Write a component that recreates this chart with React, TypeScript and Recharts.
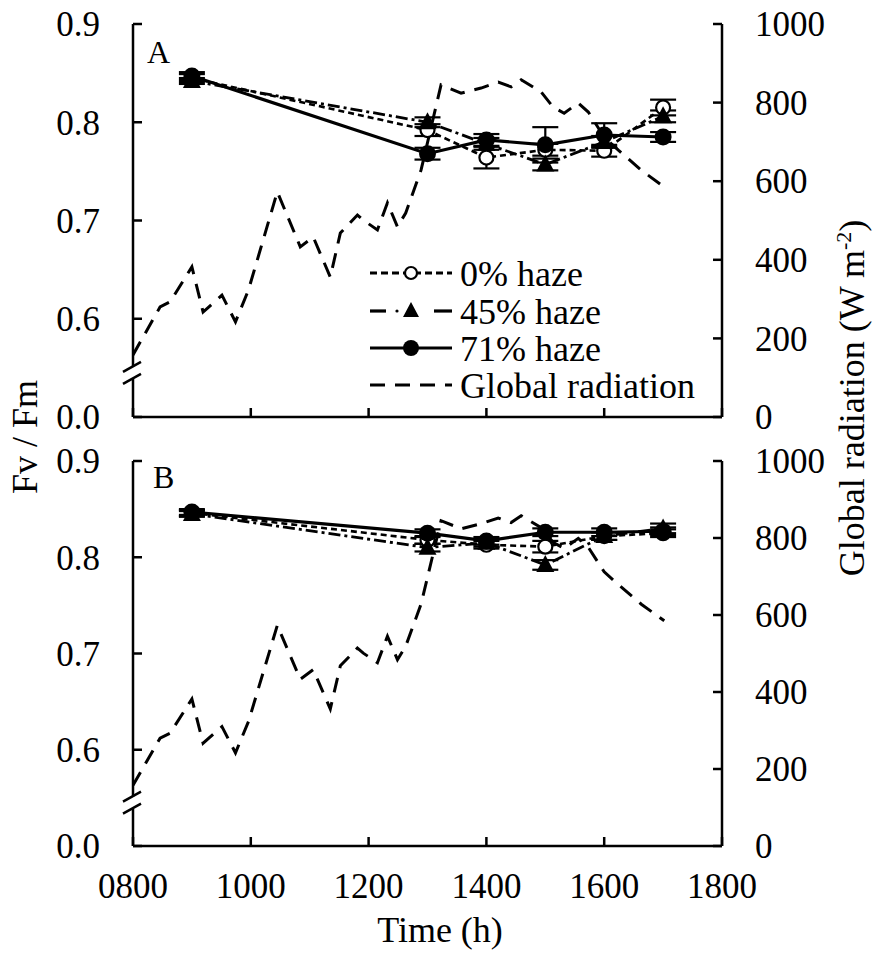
import React from 'react';
import { ComposedChart, Line, XAxis, YAxis, ErrorBar } from 'recharts';

const FONT = '"Times New Roman", Times, "Liberation Serif", Tinos, "Noto Serif", "DejaVu Serif", serif';

// ---- data ----
const sampleTimes = [900, 1300, 1400, 1500, 1600, 1700];
const xTicks = [800, 1000, 1200, 1400, 1600, 1800];
const fvTicks = [0.5, 0.545, 0.6, 0.7, 0.8, 0.9];
const radTicks = [0, 200, 400, 600, 800, 1000];

// Panel A
const aHaze0 = [0.845, 0.792, 0.764, 0.772, 0.771, 0.815];
const aHaze0Err = [0.004, 0.006, 0.011, 0.006, 0.006, 0.008];
const aHaze45 = [0.842, 0.8, 0.778, 0.757, 0.78, 0.806];
const aHaze45Err = [0.003, 0.005, 0.006, 0.006, 0.006, 0.006];
const aHaze71 = [0.847, 0.768, 0.782, 0.777, 0.787, 0.785];
const aHaze71Err = [0.004, 0.006, 0.006, 0.018, 0.012, 0.005];

// Panel B
const bHaze0 = [0.846, 0.818, 0.813, 0.811, 0.822, 0.825];
const bHaze0Err = [0.003, 0.004, 0.004, 0.006, 0.004, 0.004];
const bHaze45 = [0.845, 0.81, 0.815, 0.792, 0.822, 0.83];
const bHaze45Err = [0.003, 0.004, 0.004, 0.005, 0.004, 0.005];
const bHaze71 = [0.847, 0.825, 0.817, 0.826, 0.826, 0.827];
const bHaze71Err = [0.003, 0.004, 0.004, 0.004, 0.004, 0.004];

// Global radiation (W m-2)
const radTimes = [800, 846, 863, 900, 919, 951, 974, 996, 1045, 1084, 1106, 1135, 1152, 1181, 1191, 1215, 1232, 1249, 1263, 1289, 1323, 1357, 1391, 1420, 1442, 1459, 1493, 1513, 1532, 1556, 1573, 1600, 1624, 1663, 1702];
const radValues = [158, 280, 293, 382, 267, 310, 242, 323, 573, 433, 458, 356, 468, 514, 501, 476, 545, 484, 519, 628, 845, 824, 837, 852, 840, 858, 827, 789, 773, 799, 776, 712, 679, 628, 585];

const seriesNames = ['0% haze', '45% haze', '71% haze', 'Global radiation'];

const toSeries = (vals: number[], errs: number[]) =>
  sampleTimes.map((t, i) => ({ t, v: vals[i], e: errs[i] }));
const radData = radTimes.map((t, i) => ({ t, r: radValues[i] }));

// ---- styles ----
const DASH0 = '6 4';
const DASH45 = '12 4 3 4';
const DASHRAD = '15 10';
const TICK_FS = 35;
const txtStyle = { fontFamily: FONT };

const OpenCircle = (p: any) => {
  if (p.cx == null || p.cy == null) return <g key={p.index} />;
  return <circle key={p.index} cx={p.cx} cy={p.cy} r={7} fill="#fff" stroke="#000" strokeWidth={2.2} />;
};
const Triangle = (p: any) => {
  if (p.cx == null || p.cy == null) return <g key={p.index} />;
  const { cx, cy } = p;
  return <polygon key={p.index} points={`${cx},${cy - 10} ${cx - 9},${cy + 7} ${cx + 9},${cy + 7}`} fill="#000" />;
};
const FilledCircle = (p: any) => {
  if (p.cx == null || p.cy == null) return <g key={p.index} />;
  return <circle key={p.index} cx={p.cx} cy={p.cy} r={8.5} fill="#000" />;
};

const LeftTick = (p: any) => {
  const { x, y, payload } = p;
  const v = payload.value;
  if (Math.abs(v - 0.545) < 1e-6) {
    return (
      <g>
        <rect x={x - 3} y={y - 6} width={6} height={12} fill="#fff" />
        <line x1={x - 10} y1={y - 1} x2={x + 8} y2={y - 11} stroke="#000" strokeWidth={2.5} />
        <line x1={x - 10} y1={y + 11} x2={x + 8} y2={y + 1} stroke="#000" strokeWidth={2.5} />
      </g>
    );
  }
  const label = Math.abs(v - 0.5) < 1e-6 ? '0.0' : v.toFixed(1);
  return (
    <g>
      <line x1={x} x2={x + 9} y1={y} y2={y} stroke="#000" strokeWidth={2.5} />
      <text x={x - 33} y={y} dy="0.35em" textAnchor="end" fontSize={TICK_FS} style={txtStyle} fill="#000">{label}</text>
    </g>
  );
};

const RightTick = (p: any) => {
  const { x, y, payload } = p;
  return (
    <g>
      <line x1={x - 9} x2={x} y1={y} y2={y} stroke="#000" strokeWidth={2.5} />
      <text x={x + 33} y={y} dy="0.35em" textAnchor="start" fontSize={TICK_FS} style={txtStyle} fill="#000">{payload.value}</text>
    </g>
  );
};

const makeBottomTick = (showLabel: boolean) => (p: any) => {
  const { x, y, payload } = p;
  const lab = String(payload.value).padStart(4, '0');
  return (
    <g>
      <line x1={x} x2={x} y1={y} y2={y - 9} stroke="#000" strokeWidth={2.5} />
      {showLabel && (
        <text x={x} y={y + 52} textAnchor="middle" fontSize={TICK_FS} style={txtStyle} fill="#000">{lab}</text>
      )}
    </g>
  );
};

type Pt = { t: number; v: number; e: number };
type PanelProps = {
  top: number;
  height: number;
  xHeight: number;
  showXLabels: boolean;
  h0: Pt[];
  h45: Pt[];
  h71: Pt[];
};

const Panel = ({ top, height, xHeight, showXLabels, h0, h45, h71 }: PanelProps) => (
  <div style={{ position: 'absolute', left: 0, top }}>
    <ComposedChart width={874} height={height} margin={{ top: 24, right: 0, bottom: 0, left: 0 }} style={{ overflow: 'visible' }}>
      <XAxis
        dataKey="t"
        type="number"
        domain={[800, 1800]}
        ticks={xTicks}
        interval={0}
        allowDataOverflow
        height={xHeight}
        tickSize={0}
        tickMargin={0}
        tickLine={false}
        axisLine={{ stroke: '#000', strokeWidth: 2.5 }}
        tick={makeBottomTick(showXLabels)}
      />
      <YAxis
        yAxisId="fv"
        orientation="left"
        type="number"
        domain={[0.5, 0.9]}
        ticks={fvTicks}
        interval={0}
        allowDataOverflow
        width={133}
        tickSize={0}
        tickMargin={0}
        tickLine={false}
        axisLine={{ stroke: '#000', strokeWidth: 2.5 }}
        tick={LeftTick}
      />
      <YAxis
        yAxisId="rad"
        orientation="right"
        type="number"
        domain={[0, 1000]}
        ticks={radTicks}
        interval={0}
        allowDataOverflow
        width={152}
        tickSize={0}
        tickMargin={0}
        tickLine={false}
        axisLine={{ stroke: '#000', strokeWidth: 2.5 }}
        tick={RightTick}
      />
      <Line yAxisId="rad" data={radData} dataKey="r" name={seriesNames[3]} stroke="#000" strokeWidth={3}
        strokeDasharray={DASHRAD} dot={false} isAnimationActive={false} />
      <Line yAxisId="fv" data={h0} dataKey="v" name={seriesNames[0]} stroke="#000" strokeWidth={2.6}
        strokeDasharray={DASH0} dot={OpenCircle} isAnimationActive={false}>
        <ErrorBar dataKey="e" width={13} stroke="#000" strokeWidth={2.2} direction="y" />
      </Line>
      <Line yAxisId="fv" data={h45} dataKey="v" name={seriesNames[1]} stroke="#000" strokeWidth={2.8}
        strokeDasharray={DASH45} dot={Triangle} isAnimationActive={false}>
        <ErrorBar dataKey="e" width={13} stroke="#000" strokeWidth={2.2} direction="y" />
      </Line>
      <Line yAxisId="fv" data={h71} dataKey="v" name={seriesNames[2]} stroke="#000" strokeWidth={3.2}
        dot={FilledCircle} isAnimationActive={false}>
        <ErrorBar dataKey="e" width={13} stroke="#000" strokeWidth={2.2} direction="y" />
      </Line>
    </ComposedChart>
  </div>
);

const LegendOverlay = () => {
  const x0 = 370, x1 = 452, mx = 411, tx = 460;
  const rows = [273, 311, 348, 385];
  const fs = 36;
  return (
    <g fontSize={fs} fill="#000" style={txtStyle}>
      <line x1={x0} x2={x1} y1={rows[0]} y2={rows[0]} stroke="#000" strokeWidth={2.8} strokeDasharray="7 4" />
      <circle cx={mx} cy={rows[0]} r={6} fill="#fff" stroke="#000" strokeWidth={2.2} />
      <text x={tx} y={rows[0]} dy="0.35em">{seriesNames[0]}</text>

      <line x1={x0} x2={x0 + 16} y1={rows[1]} y2={rows[1]} stroke="#000" strokeWidth={3.2} />
      <circle cx={x0 + 27} cy={rows[1]} r={1.6} fill="#000" />
      <polygon points={`${mx},${rows[1] - 9} ${mx - 8},${rows[1] + 6} ${mx + 8},${rows[1] + 6}`} fill="#000" />
      <line x1={x1 - 18} x2={x1} y1={rows[1]} y2={rows[1]} stroke="#000" strokeWidth={3.2} />
      <text x={tx} y={rows[1]} dy="0.35em">{seriesNames[1]}</text>

      <line x1={x0} x2={x1} y1={rows[2]} y2={rows[2]} stroke="#000" strokeWidth={3} />
      <circle cx={mx} cy={rows[2]} r={8} fill="#000" />
      <text x={tx} y={rows[2]} dy="0.35em">{seriesNames[2]}</text>

      <line x1={x0} x2={x1} y1={rows[3]} y2={rows[3]} stroke="#000" strokeWidth={3.2} strokeDasharray="15 10" />
      <text x={tx} y={rows[3]} dy="0.35em">{seriesNames[3]}</text>
    </g>
  );
};

export default function App() {
  return (
    <div style={{ position: 'absolute', left: 0, top: 0, width: 874, height: 967, background: '#fff', fontFamily: FONT }}>
      <Panel top={0} height={447} xHeight={30} showXLabels={false}
        h0={toSeries(aHaze0, aHaze0Err)} h45={toSeries(aHaze45, aHaze45Err)} h71={toSeries(aHaze71, aHaze71Err)} />
      <Panel top={437} height={469} xHeight={60} showXLabels={true}
        h0={toSeries(bHaze0, bHaze0Err)} h45={toSeries(bHaze45, bHaze45Err)} h71={toSeries(bHaze71, bHaze71Err)} />
      <svg width={874} height={967} style={{ position: 'absolute', left: 0, top: 0, pointerEvents: 'none', fontFamily: FONT }}>
        <text x={147} y={63} fontSize={32} fill="#000" style={txtStyle}>A</text>
        <text x={153} y={488} fontSize={32} fill="#000" style={txtStyle}>B</text>
        <LegendOverlay />
        <text transform="translate(37,437) rotate(-90)" textAnchor="middle" fontSize={36} fill="#000" style={txtStyle}>Fv / Fm</text>
        <text transform="translate(864,398) rotate(-90)" textAnchor="middle" fontSize={36} fill="#000" style={txtStyle}>
          Global radiation (W m<tspan dy={-13} fontSize={22}>-2</tspan><tspan dy={13}>)</tspan>
        </text>
        <text x={440} y={942} textAnchor="middle" fontSize={36} fill="#000" style={txtStyle}>Time (h)</text>
      </svg>
    </div>
  );
}
